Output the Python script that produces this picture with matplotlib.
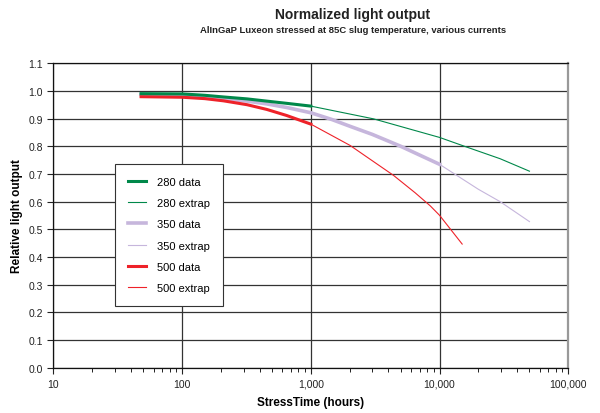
import matplotlib.pyplot as plt
from matplotlib.ticker import FixedLocator, LogLocator, NullFormatter

plt.rcParams['font.family'] = ['Liberation Sans', 'DejaVu Sans']

# data (hours, relative output)
t_280_data = [48, 100, 150, 210, 320, 455, 650, 1000]
v_280_data = [0.990, 0.989, 0.984, 0.978, 0.971, 0.963, 0.955, 0.945]
t_280_ext = [1000, 3070, 10000, 16300, 29600, 50000]
v_280_ext = [0.945, 0.899, 0.832, 0.797, 0.755, 0.710]

t_350_data = [48, 100, 150, 210, 320, 455, 650, 1000, 1450, 2020, 3000, 4940, 10000]
v_350_data = [0.987, 0.986, 0.980, 0.972, 0.963, 0.953, 0.940, 0.921, 0.897,
              0.872, 0.843, 0.801, 0.735]
t_350_ext = [10000, 20000, 29600, 50000]
v_350_ext = [0.735, 0.645, 0.600, 0.528]

t_500_data = [48, 100, 150, 210, 320, 455, 650, 1000]
v_500_data = [0.979, 0.977, 0.972, 0.964, 0.950, 0.933, 0.911, 0.880]
t_500_ext = [1000, 2020, 4390, 6470, 8470, 10000, 15000]
v_500_ext = [0.880, 0.803, 0.695, 0.632, 0.585, 0.551, 0.447]

x_ticks = [10, 100, 1000, 10000, 100000]
x_labels = ["10", "100", "1,000", "10,000", "100,000"]
y_ticks = [i / 10 for i in range(12)]

green = "#00884A"
lav = "#C6B6DC"
red = "#EE2229"

fig = plt.figure(figsize=(6.0, 4.14), dpi=100)
ax = fig.add_axes([0.089, 0.109, 0.858, 0.736])

ax.plot(t_280_data, v_280_data, color=green, lw=2.2, label="280 data", zorder=5)
ax.plot(t_280_ext, v_280_ext, color=green, lw=0.8, label="280 extrap", zorder=4)
ax.plot(t_350_data, v_350_data, color=lav, lw=2.6, label="350 data", zorder=3)
ax.plot(t_350_ext, v_350_ext, color=lav, lw=0.8, label="350 extrap", zorder=3)
ax.plot(t_500_data, v_500_data, color=red, lw=2.2, label="500 data", zorder=4)
ax.plot(t_500_ext, v_500_ext, color=red, lw=0.8, label="500 extrap", zorder=4)

ax.set_xscale("log")
ax.set_xlim(10, 100000)
ax.set_ylim(0, 1.1)
ax.xaxis.set_major_locator(FixedLocator(x_ticks))
ax.set_xticklabels(x_labels)
ax.xaxis.set_minor_locator(LogLocator(base=10, subs=range(2, 10)))
ax.xaxis.set_minor_formatter(NullFormatter())
ax.set_yticks(y_ticks)
ax.set_yticklabels([f"{v:.1f}" for v in y_ticks])

ax.grid(True, which="major", color="#333333", lw=0.9)
ax.tick_params(axis="both", which="major", labelsize=7.5, length=4, width=0.8,
               direction="out", colors="#222222", labelcolor="#222222")
ax.tick_params(axis="x", which="minor", length=3, width=0.7, colors="#222222")
ax.tick_params(axis="x", pad=4)

for side in ["left", "bottom", "top"]:
    ax.spines[side].set_color("#111111")
    ax.spines[side].set_linewidth(0.9)
ax.spines["right"].set_color("#999999")
ax.spines["right"].set_linewidth(1.6)

ax.set_xlabel("StressTime (hours)", fontsize=8.5, fontweight="bold", labelpad=5)
ax.set_ylabel("Relative light output", fontsize=8.5, fontweight="bold", labelpad=4)

fig.text(0.588, 0.964, "Normalized light output", ha="center", va="center",
         fontsize=10, fontweight="bold", color="#222222")
fig.text(0.588, 0.927, "AlInGaP Luxeon stressed at 85C slug temperature, various currents",
         ha="center", va="center", fontsize=6.8, fontweight="bold", color="#222222")

leg = ax.legend(loc="upper left", bbox_to_anchor=(0.12, 0.67), fontsize=8,
                frameon=True, fancybox=False, edgecolor="#333333", framealpha=1,
                handlelength=1.6, handletextpad=1.0, labelspacing=1.02,
                borderpad=1.15, borderaxespad=0)
leg.get_frame().set_linewidth(0.8)
leg.set_zorder(10)

fig.savefig("out.png", dpi=100)
